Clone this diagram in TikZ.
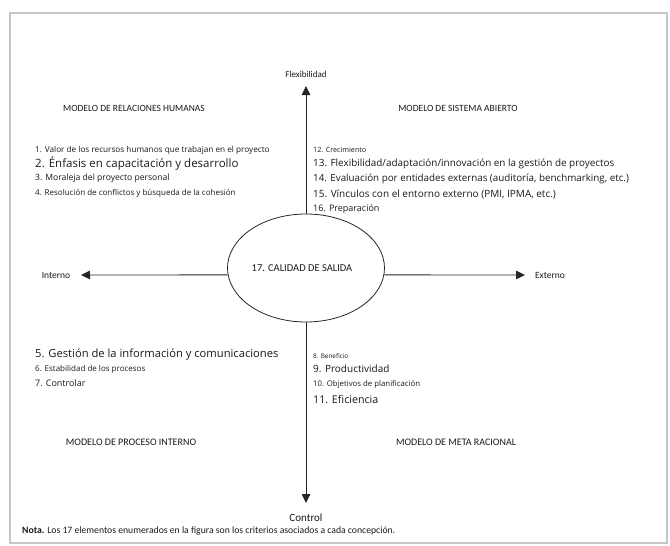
\documentclass[tikz,border=0pt]{standalone}
\usepackage{fontspec}
\setmainfont{Open Sans}
\newfontfamily\hdr{Carlito}
\usetikzlibrary{arrows.meta,shapes.geometric}
\begin{document}
\begin{tikzpicture}[x=1pt,y=-1pt,
  lbl/.style={anchor=west,inner sep=0pt,text=black!90},
  hd/.style={inner sep=0pt,font=\hdr\fontsize{9.5}{11}\selectfont,text=black!90},
  arr/.style={draw=black!85,line width=0.8pt,-{Triangle[length=9pt,width=8.5pt]}}]
\useasboundingbox (0,0) rectangle (670,546);
\draw[gray!45,line width=1.6pt] (10,13) rectangle (667,543);
% central ellipse
\node[draw=black!85,line width=0.8pt,ellipse,minimum width=157pt,minimum height=108pt,inner sep=0pt] (ell) at (306,268) {};
\node[hd,font=\hdr\fontsize{10.5}{12}\selectfont] (cal) at (302,268) {17. CALIDAD DE SALIDA};
% axis labels
\node[hd,font=\hdr\fontsize{9}{11}\selectfont] (flex) at (306,74) {Flexibilidad};
\node[hd,font=\hdr\fontsize{11}{13}\selectfont] (ctrl) at (306,518) {Control};
\node[hd,font=\hdr\fontsize{9.5}{11}\selectfont] (int) at (56,275) {Interno};
\node[hd,font=\hdr\fontsize{9.5}{11}\selectfont] (ext) at (550,275) {Externo};
\coordinate (ftip) at (306,86);
\coordinate (ctip) at (306,503);
\coordinate (itip) at (81,275);
\coordinate (etip) at (525,275);
\draw[arr] (ell.north) -- (ftip);
\draw[arr] (ell.south) -- (ctip);
\draw[arr] (ell.185.1) -- (itip);
\draw[arr] (ell.-5.1) -- (etip);
% quadrant titles
\node[hd] (q1) at (134,108) {MODELO DE RELACIONES HUMANAS};
\node[hd] (q2) at (458,108) {MODELO DE SISTEMA ABIERTO};
\node[hd,font=\hdr\fontsize{10}{12}\selectfont] (q3) at (131,442) {MODELO DE PROCESO INTERNO};
\node[hd,font=\hdr\fontsize{10}{12}\selectfont] (q4) at (456,442) {MODELO DE META RACIONAL};
% upper left list
\node[lbl,font=\fontsize{8.2}{10}\selectfont] (i1) at (35,150) {1. Valor de los recursos humanos que trabajan en el proyecto};
\node[lbl,font=\fontsize{11.5}{13}\selectfont] (i2) at (35,164) {2. Énfasis en capacitación y desarrollo};
\node[lbl,font=\fontsize{8.6}{10}\selectfont] (i3) at (35,178) {3. Moraleja del proyecto personal};
\node[lbl,font=\fontsize{8}{10}\selectfont] (i4) at (35,193) {4. Resolución de conflictos y búsqueda de la cohesión};
% upper right list
\node[lbl,font=\fontsize{7.2}{9}\selectfont] (i12) at (313,150) {12. Crecimiento};
\node[lbl,font=\fontsize{9.9}{12}\selectfont] (i13) at (313,164) {13. Flexibilidad/adaptación/innovación en la gestión de proyectos};
\node[lbl,font=\fontsize{9.8}{12}\selectfont] (i14) at (313,179) {14. Evaluación por entidades externas (auditoría, benchmarking, etc.)};
\node[lbl,font=\fontsize{10}{12}\selectfont] (i15) at (313,194) {15. Vínculos con el entorno externo (PMI, IPMA, etc.)};
\node[lbl,font=\fontsize{9}{11}\selectfont] (i16) at (313,209) {16. Preparación};
% lower left list
\node[lbl,font=\fontsize{11.2}{13}\selectfont] (i5) at (35,355) {5. Gestión de la información y comunicaciones};
\node[lbl,font=\fontsize{8}{10}\selectfont] (i6) at (35,369) {6. Estabilidad de los procesos};
\node[lbl,font=\fontsize{9}{11}\selectfont] (i7) at (35,383) {7. Controlar};
% lower right list
\node[lbl,font=\fontsize{6.4}{8}\selectfont] (i8) at (313,356) {8. Beneficio};
\node[lbl,font=\fontsize{10}{12}\selectfont] (i9) at (313,369) {9. Productividad};
\node[lbl,font=\fontsize{7.8}{9}\selectfont] (i10) at (313,384) {10. Objetivos de planificación};
\node[lbl,font=\fontsize{10.7}{12}\selectfont] (i11) at (313,399) {11. Eficiencia};
% note
\node[lbl,font=\hdr\fontsize{9.7}{11}\selectfont] (nota) at (22,531) {\textbf{Nota.} Los 17 elementos enumerados en la figura son los criterios asociados a cada concepción.};
\end{tikzpicture}
\end{document}
